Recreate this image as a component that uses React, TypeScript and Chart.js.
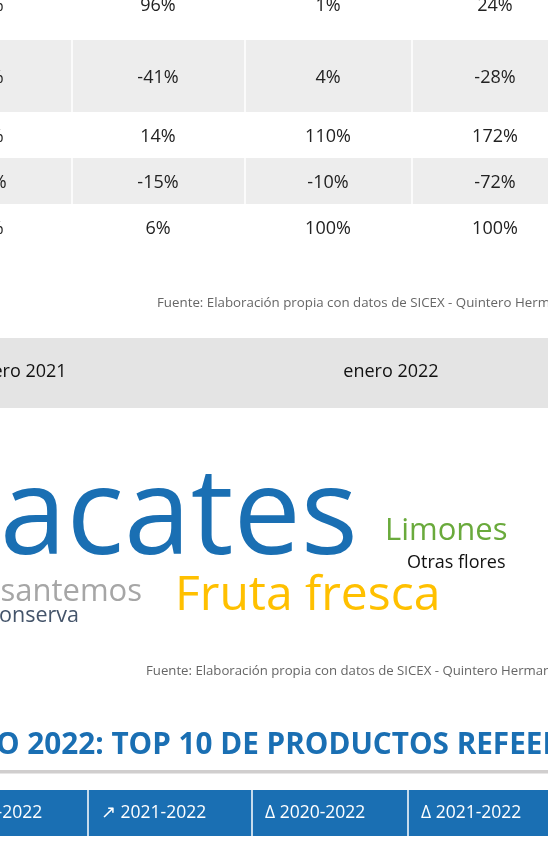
import React, { useEffect, useRef } from "react";
import { Chart, registerables } from "chart.js";

Chart.register(...registerables);

// ---------- DATA ----------
const variationCol0 = ["54%", "30%", "27%", "-34%", "94%"];
const variationCol1 = ["96%", "-41%", "14%", "-15%", "6%"];
const variationCol2 = ["1%", "4%", "110%", "-10%", "100%"];
const variationCol3 = ["24%", "-28%", "172%", "-72%", "100%"];

const monthLabels = ["enero 2021", "enero 2022"];

const cloudWords = ["Aguacates", "Limones", "Otras flores", "Crisantemos", "Fruta fresca", "Frutas en conserva"];
const cloudValues = [62, 7, 3, 6, 12, 3];

const sourceText = "Fuente: Elaboración propia con datos de SICEX - Quintero Hermanos";
const sectionTitle = "ENERO 2022: TOP 10 DE PRODUCTOS REFEER";
const headerLabels = ["↗ 2020-2022", "↗ 2021-2022", "Δ 2020-2022", "Δ 2021-2022"];

// ---------- LAYOUT / STYLE ----------
const W = 548;
const H = 852;
const FONT = "'Open Sans', 'Noto Sans', sans-serif";
const BLUE = "#1a6fb3";

const tableColCenters = [-14, 158, 328, 495];
const tableDividers = [72, 245, 412];
const tableRows = [
  [-32, 40],
  [40, 112],
  [112, 158],
  [158, 204],
  [204, 250],
];
const tableShaded = [false, true, false, true, false];

const cloudLayout = [
  { x: 358, y: 554, size: 120, color: "#1a6fb3", align: "right" },
  { x: 385, y: 540, size: 31, color: "#6aaa3c", align: "left" },
  { x: 407, y: 568, size: 18, color: "#111111", align: "left" },
  { x: 142, y: 601, size: 31, color: "#a6a6a6", align: "right" },
  { x: 175, y: 610, size: 48, color: "#ffc000", align: "left" },
  { x: 79, y: 622, size: 21.5, color: "#44546a", align: "right" },
];

const headerColStarts = [-76, 88, 252, 408];

const pagePlugin = {
  id: "pageLayout",
  afterDraw(chart: any) {
    const ctx = chart.ctx as CanvasRenderingContext2D;
    const sx = chart.scales.x;
    const sy = chart.scales.y;
    const X = (v: number) => sx.getPixelForValue(v);
    const Y = (v: number) => sy.getPixelForValue(v);
    ctx.save();

    // white page
    ctx.fillStyle = "#ffffff";
    ctx.fillRect(X(0), Y(0), X(W) - X(0), Y(H) - Y(0));

    // top table
    const cols = [variationCol0, variationCol1, variationCol2, variationCol3];
    tableRows.forEach((r, i) => {
      if (tableShaded[i]) {
        ctx.fillStyle = "#ededed";
        ctx.fillRect(X(0), Y(r[0]), X(W) - X(0), Y(r[1]) - Y(r[0]));
        ctx.fillStyle = "#ffffff";
        tableDividers.forEach((d) => {
          ctx.fillRect(X(d) - 0.75, Y(r[0]), 1.5, Y(r[1]) - Y(r[0]));
        });
      }
      const mid = (r[0] + r[1]) / 2;
      ctx.font = `18px ${FONT}`;
      ctx.fillStyle = "#222222";
      ctx.textAlign = "center";
      ctx.textBaseline = "alphabetic";
      cols.forEach((c, j) => {
        ctx.fillText(c[i], X(tableColCenters[j]), Y(mid + 6.5));
      });
    });

    // source line 1
    ctx.font = `13.3px ${FONT}`;
    ctx.fillStyle = "#666666";
    ctx.textAlign = "left";
    ctx.fillText(sourceText, X(157), Y(307));

    // month band
    ctx.fillStyle = "#e4e4e4";
    ctx.fillRect(X(0), Y(338), X(W) - X(0), Y(408) - Y(338));
    ctx.font = `18px ${FONT}`;
    ctx.fillStyle = "#111111";
    ctx.textAlign = "center";
    ctx.fillText(monthLabels[0], X(19), Y(377));
    ctx.fillText(monthLabels[1], X(391), Y(377));

    // word cloud
    cloudWords.forEach((w, i) => {
      const l = cloudLayout[i];
      ctx.font = `${l.size}px ${FONT}`;
      ctx.fillStyle = l.color;
      ctx.textAlign = l.align as CanvasTextAlign;
      ctx.fillText(w, X(l.x), Y(l.y));
    });

    // source line 2
    ctx.font = `13.2px ${FONT}`;
    ctx.fillStyle = "#666666";
    ctx.textAlign = "left";
    ctx.fillText(sourceText, X(146), Y(675));

    // section title
    ctx.font = `bold 29.7px ${FONT}`;
    ctx.fillStyle = BLUE;
    ctx.textAlign = "left";
    const pre = ctx.measureText("ENER").width;
    ctx.fillText(sectionTitle, X(-4) - pre, Y(754));

    // gray rule
    ctx.fillStyle = "#d0cece";
    ctx.fillRect(X(0), Y(770), X(W) - X(0), Y(773.5) - Y(770));

    // header band
    ctx.fillStyle = BLUE;
    ctx.fillRect(X(0), Y(790), X(W) - X(0), Y(836) - Y(790));
    ctx.fillStyle = "#ffffff";
    headerColStarts.slice(1).forEach((d) => {
      ctx.fillRect(X(d) - 0.75, Y(790), 1.5, Y(836) - Y(790));
    });
    ctx.font = `17.5px ${FONT}`;
    ctx.textAlign = "left";
    headerLabels.forEach((h, i) => {
      ctx.fillText(h, X(headerColStarts[i] + 13), Y(818));
    });

    ctx.restore();
  },
};

export default function App() {
  const ref = useRef<HTMLCanvasElement | null>(null);
  useEffect(() => {
    if (!ref.current) return;
    const chart = new Chart(ref.current, {
      type: "scatter",
      data: { datasets: [{ data: [], pointRadius: 0 }] },
      options: {
        animation: false,
        responsive: false,
        devicePixelRatio: 1,
        layout: { padding: 0 },
        plugins: { legend: { display: false }, tooltip: { enabled: false } },
        scales: {
          x: { type: "linear", min: 0, max: W, display: false },
          y: { type: "linear", min: 0, max: H, reverse: true, display: false },
        },
      },
      plugins: [pagePlugin],
    });
    const fonts: any = (document as any).fonts;
    if (fonts && fonts.load) {
      Promise.all([
        fonts.load(`18px 'Open Sans'`),
        fonts.load(`bold 29px 'Open Sans'`),
      ]).then(() => chart.draw()).catch(() => {});
    }
    return () => chart.destroy();
  }, []);
  return (
    <div style={{ position: "absolute", left: 0, top: 0, width: W, height: H, overflow: "hidden", background: "#fff" }}>
      <canvas ref={ref} width={W} height={H} style={{ width: W, height: H, display: "block" }} />
    </div>
  );
}
